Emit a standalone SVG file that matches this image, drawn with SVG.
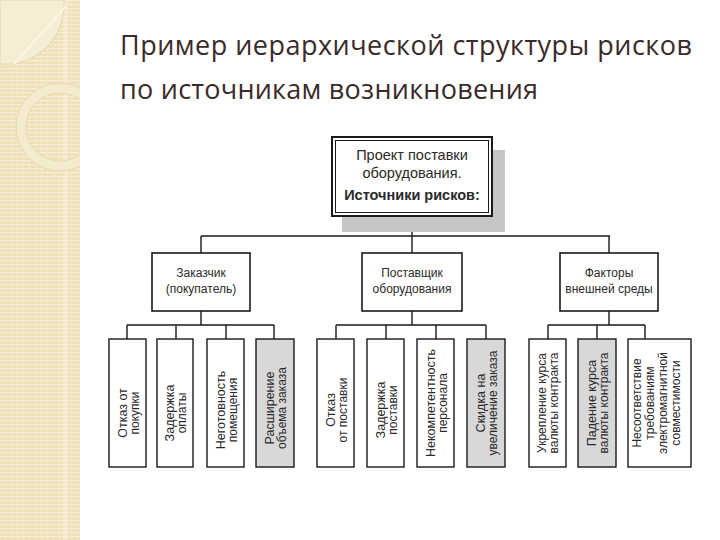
<svg xmlns="http://www.w3.org/2000/svg" width="720" height="540" viewBox="0 0 720 540">
<defs>
<pattern id="stripes" width="6" height="4" patternUnits="userSpaceOnUse">
<rect width="6" height="4" fill="#eedfb5"/>
<rect y="0" width="6" height="1.3" fill="#f7efd8"/>
<rect x="5" y="0" width="1" height="4" fill="#f3e8c8"/>
</pattern>
<clipPath id="band"><rect x="0" y="0" width="80" height="540"/></clipPath>
<style>
.t{font-family:"Liberation Sans",Arial,sans-serif;fill:#2a2a2a}
.box{fill:#fff;stroke:#1a1a1a;stroke-width:1.6}
.leaf{fill:#fff;stroke:#1a1a1a;stroke-width:1.4}
.gray{fill:#d8d8d8}
.c{stroke:#1a1a1a;stroke-width:1.4;fill:none}
.l1{font-size:12.5px}
.l2{font-size:12px}
</style>
</defs>
<rect width="720" height="540" fill="#fff"/>
<g id="band-deco">
<rect x="0" y="0" width="80" height="540" fill="url(#stripes)"/>
<rect x="63" y="0" width="5" height="540" fill="#f5ecd3" opacity="0.7"/>
<g clip-path="url(#band)">
<path d="M0,0 H64 A60,60 0 0 1 14,64 H0 Z" fill="#f5edd4" stroke="#e6d6aa" stroke-width="1"/>
<line x1="14" y1="64" x2="66" y2="6" stroke="#faf5e6" stroke-width="2"/>
<circle cx="60" cy="127" r="39" fill="none" stroke="#f4ebcf" stroke-width="10"/>
<circle cx="60" cy="127" r="44" fill="none" stroke="#e4d3a6" stroke-width="0.8"/>
<circle cx="60" cy="127" r="34" fill="none" stroke="#e4d3a6" stroke-width="0.8"/>
</g>
</g>
<g id="title" font-family="'Open Sans','Noto Sans',sans-serif" fill="#3b2a2a" font-size="27">
<text x="120" y="55" textLength="572" lengthAdjust="spacing">Пример иерархической структуры рисков</text>
<text x="120" y="99" textLength="418" lengthAdjust="spacing">по источникам возникновения</text>
</g>
<g id="connectors">
<path class="c" d="M412,216 V236 M201,236 H610 M201,236 V253 M412,236 V253 M609,236 V253"/>
<path class="c" d="M201,311 V325 M127,325 H274 M127,325 V339 M176,325 V339 M226,325 V339 M274,325 V339"/>
<path class="c" d="M412,311 V325 M336,325 H486 M336,325 V339 M386,325 V339 M436,325 V339 M486,325 V339"/>
<path class="c" d="M609,311 V325 M548,325 H645 M548,325 V339 M597,325 V339 M645,325 V339"/>
</g>
<g id="root">
<rect x="342" y="150" width="163" height="82" fill="#c6c6c6"/>
<rect x="332" y="137" width="160" height="79" fill="#fff" stroke="#1a1a1a" stroke-width="2"/>
<rect x="335.5" y="140.5" width="153" height="72" fill="none" stroke="#1a1a1a" stroke-width="1"/>
<text class="t" x="412" y="160" font-size="14.5" text-anchor="middle">Проект поставки</text>
<text class="t" x="412" y="178" font-size="14.5" text-anchor="middle">оборудования.</text>
<text class="t" x="412" y="200" font-size="14.5" font-weight="bold" text-anchor="middle" fill="#111">Источники рисков:</text>
</g>
<g id="customer">
<rect class="box" x="152" y="253" width="98" height="58"/>
<text class="t" x="201" y="277" font-size="12" text-anchor="middle">Заказчик</text>
<text class="t" x="201" y="293" font-size="12" text-anchor="middle">(покупатель)</text>
</g>
<g id="supplier">
<rect class="box" x="362" y="253" width="100" height="58"/>
<text class="t" x="412" y="277" font-size="12" text-anchor="middle">Поставщик</text>
<text class="t" x="412" y="293" font-size="12" text-anchor="middle">оборудования</text>
</g>
<g id="external">
<rect class="box" x="560" y="253" width="98" height="58"/>
<text class="t" x="609" y="277" font-size="12" text-anchor="middle">Факторы</text>
<text class="t" x="609" y="293" font-size="12" text-anchor="middle">внешней среды</text>
</g>
<g id="leaf-1-1">
<rect class="leaf" x="109" y="339" width="37" height="128"/>
<g transform="translate(127.5,413) rotate(-90)"><text class="t l1" y="-1" text-anchor="middle">Отказ от</text><text class="t l2" y="11" text-anchor="middle">покупки</text></g>
</g>
<g id="leaf-1-2">
<rect class="leaf" x="157" y="339" width="36" height="128"/>
<g transform="translate(175,413) rotate(-90)"><text class="t l1" y="-1" text-anchor="middle">Задержка</text><text class="t l2" y="11" text-anchor="middle">оплаты</text></g>
</g>
<g id="leaf-1-3">
<rect class="leaf" x="207" y="339" width="37" height="128"/>
<g transform="translate(225.5,410) rotate(-90)"><text class="t l1" y="-1" text-anchor="middle">Неготовность</text><text class="t l2" y="11" text-anchor="middle">помещения</text></g>
</g>
<g id="leaf-1-4">
<rect class="leaf gray" x="256" y="339" width="38" height="128"/>
<g transform="translate(275,408) rotate(-90)"><text class="t l1" y="-1" text-anchor="middle">Расширение</text><text class="t l2" y="11" text-anchor="middle">объема заказа</text></g>
</g>
<g id="leaf-2-1">
<rect class="leaf" x="317" y="339" width="37" height="128"/>
<g transform="translate(335.5,410) rotate(-90)"><text class="t l1" y="-1" text-anchor="middle">Отказ</text><text class="t l2" y="11" text-anchor="middle">от поставки</text></g>
</g>
<g id="leaf-2-2">
<rect class="leaf" x="367" y="339" width="37" height="128"/>
<g transform="translate(385.5,410) rotate(-90)"><text class="t l1" y="-1" text-anchor="middle">Задержка</text><text class="t l2" y="11" text-anchor="middle">поставки</text></g>
</g>
<g id="leaf-2-3">
<rect class="leaf" x="417" y="339" width="37" height="128"/>
<g transform="translate(435.5,403) rotate(-90)"><text class="t l1" y="-1" text-anchor="middle">Некомпетентность</text><text class="t l2" y="11" text-anchor="middle">персонала</text></g>
</g>
<g id="leaf-2-4">
<rect class="leaf gray" x="467" y="339" width="38" height="128"/>
<g transform="translate(486,403) rotate(-90)"><text class="t l1" y="-1" text-anchor="middle">Скидка на</text><text class="t l2" y="11" text-anchor="middle">увеличение заказа</text></g>
</g>
<g id="leaf-3-1">
<rect class="leaf" x="529" y="339" width="37" height="128"/>
<g transform="translate(547.5,403) rotate(-90)"><text class="t l2" y="-2" text-anchor="middle">Укрепление курса</text><text class="t l2" y="10" text-anchor="middle">валюты контракта</text></g>
</g>
<g id="leaf-3-2">
<rect class="leaf gray" x="578" y="339" width="38" height="128"/>
<g transform="translate(597,403) rotate(-90)"><text class="t l1" y="-1" text-anchor="middle">Падение курса</text><text class="t l2" y="11" text-anchor="middle">валюты контракта</text></g>
</g>
<g id="leaf-3-3">
<rect class="leaf" x="628" y="339" width="63" height="128"/>
<g transform="translate(659.5,403) rotate(-90)"><text class="t l2" y="-18.5" text-anchor="middle">Несоответствие</text><text class="t l2" y="-5.5" text-anchor="middle">требованиям</text><text class="t l2" y="7.5" text-anchor="middle">электромагнитной</text><text class="t l2" y="20.5" text-anchor="middle">совместимости</text></g>
</g>
</svg>
